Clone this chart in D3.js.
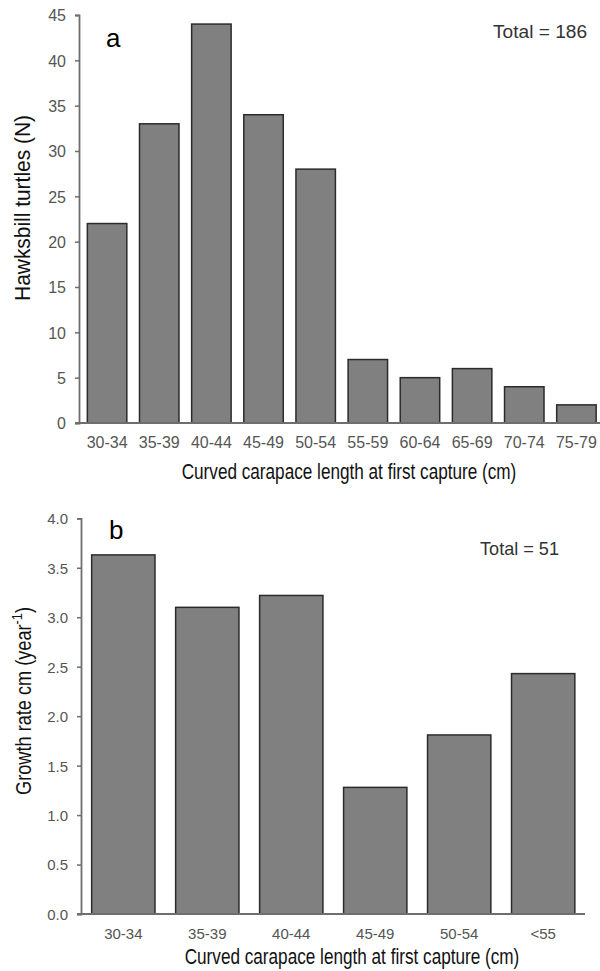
<!DOCTYPE html>
<html>
<head>
<meta charset="utf-8">
<script src="https://cdn.jsdelivr.net/npm/d3@7"></script>
<style>
  html, body { margin: 0; padding: 0; background: #fff; }
  svg { display: block; }
  .tick text { fill: #555; font-family: "Liberation Sans", Arial, sans-serif; }
  .title { fill: #111; font-family: "Liberation Sans Narrow", "Arial Narrow", "Liberation Sans", sans-serif; }
</style>
</head>
<body>
<svg id="chart" width="600" height="971"></svg>
<script>
// ---- Panel a data ----
const catsA = ["30-34","35-39","40-44","45-49","50-54","55-59","60-64","65-69","70-74","75-79"];
const countsA = [22, 33, 44, 34, 28, 7, 5, 6, 4, 2];
const ticksA = [0, 5, 10, 15, 20, 25, 30, 35, 40, 45];

// ---- Panel b data ----
const catsB = ["30-34","35-39","40-44","45-49","50-54","<55"];
const ratesB = [3.63, 3.10, 3.22, 1.28, 1.81, 2.43];
const ticksB = [0, 0.5, 1.0, 1.5, 2.0, 2.5, 3.0, 3.5, 4.0];

const svg = d3.select("#chart");
const axisColor = "#6e6e6e";
const barFill = "#808080";
const barStroke = "#2b2b2b";

// scale a text's font-size so its natural width equals target
function fitWidth(sel, target, base) {
  sel.style("font-size", base + "px");
  const w = sel.node().getComputedTextLength();
  if (w > 0) sel.style("font-size", (base * target / w).toFixed(2) + "px");
}
// keep font-size, condense horizontally so width equals target
function condense(sel, target, x, y, rot) {
  const w = sel.node().getComputedTextLength();
  const sx = w > 0 ? Math.min(1, target / w) : 1;
  sel.attr("transform", `translate(${x},${y}) rotate(${rot}) scale(${sx.toFixed(4)},1)`);
}

function panel(opts) {
  const g = svg.append("g");
  const x = d3.scaleBand().domain(opts.cats).range([opts.x0, opts.x1b])
    .paddingInner(opts.pi).paddingOuter(opts.po);
  const y = d3.scaleLinear().domain([0, opts.ymax]).range([opts.yBottom, opts.yTop]);

  // bars
  g.selectAll("rect.bar").data(opts.vals).enter().append("rect")
    .attr("class", "bar")
    .attr("x", (d, i) => x(opts.cats[i]))
    .attr("width", x.bandwidth())
    .attr("y", d => y(d))
    .attr("height", d => y(0) - y(d))
    .attr("fill", barFill)
    .attr("stroke", barStroke)
    .attr("stroke-width", 1.5);

  // y axis
  const ya = g.append("g").attr("transform", `translate(${opts.x0},0)`)
    .call(d3.axisLeft(y).tickValues(opts.ticks).tickSize(4).tickPadding(9)
      .tickFormat(opts.fmt));
  ya.select(".domain").attr("stroke", axisColor).attr("stroke-width", 1.8);
  ya.selectAll(".tick line").attr("stroke", axisColor).attr("stroke-width", 1.5);
  ya.selectAll(".tick text").style("font-size", opts.yFont + "px").attr("dy", "0.36em");

  // x axis
  const xa = g.append("g").attr("transform", `translate(0,${opts.yBottom})`)
    .call(d3.axisBottom(x).tickSize(0).tickPadding(opts.xPad));
  xa.select(".domain").remove();
  g.append("line")
    .attr("x1", opts.x0 - 4).attr("x2", opts.xAxisEnd)
    .attr("y1", y(0)).attr("y2", y(0))
    .attr("stroke", axisColor).attr("stroke-width", 2);
  xa.selectAll(".tick text").style("font-size", opts.xFont + "px");

  // axis titles
  const xt = g.append("text").attr("class", "title")
    .attr("text-anchor", "middle")
    .style("font-size", "21.5px")
    .text("Curved carapace length at first capture (cm)");
  condense(xt, opts.xTitleLen, opts.xTitleX, opts.xTitleY, 0);

  const yt = g.append("text").attr("class", "title")
    .attr("text-anchor", "middle")
    .style("font-size", "21.5px");
  opts.yTitle(yt);
  condense(yt, opts.yTitleLen, opts.yTitleX, opts.yTitleY, -90);

  // panel letter
  g.append("text").attr("x", opts.letterX).attr("y", opts.letterY)
    .style("font-family", "'Liberation Sans', Arial, sans-serif")
    .style("font-size", "26px").attr("fill", "#000")
    .text(opts.letter);

  // total
  const tt = g.append("text").attr("x", opts.totX).attr("y", opts.totY)
    .attr("text-anchor", "end")
    .style("font-family", "'Liberation Sans', Arial, sans-serif")
    .attr("fill", "#333")
    .text(opts.total);
  fitWidth(tt, opts.totLen, 17);
}

panel({
  cats: catsA, vals: countsA, ticks: ticksA, ymax: 45,
  x0: 79, x1b: 604.5, pi: 0.243, po: 0.16,
  yTop: 15, yBottom: 423, xAxisEnd: 600,
  fmt: d3.format("d"), yFont: 16, xFont: 16, xPad: 14,
  xTitleX: 349, xTitleY: 479, xTitleLen: 335,
  yTitleX: 30, yTitleY: 208, yTitleLen: 186,
  yTitle: t => t.text("Hawksbill turtles (N)"),
  letter: "a", letterX: 106, letterY: 47,
  total: "Total = 186", totX: 587, totY: 38, totLen: 94
});

panel({
  cats: catsB, vals: ratesB, ticks: ticksB, ymax: 4.0,
  x0: 81, x1b: 585.5, pi: 0.246, po: 0.127,
  yTop: 518.3, yBottom: 914, xAxisEnd: 585,
  fmt: d3.format(".1f"), yFont: 15, xFont: 15, xPad: 14,
  xTitleX: 352, xTitleY: 964, xTitleLen: 335,
  yTitleX: 31, yTitleY: 701, yTitleLen: 188,
  yTitle: t => {
    t.append("tspan").text("Growth rate cm (year");
    t.append("tspan").attr("baseline-shift", "super").style("font-size", "0.7em").text("-1");
    t.append("tspan").text(")");
  },
  letter: "b", letterX: 109, letterY: 539,
  total: "Total = 51", totX: 559, totY: 555, totLen: 79
});
</script>
</body>
</html>
